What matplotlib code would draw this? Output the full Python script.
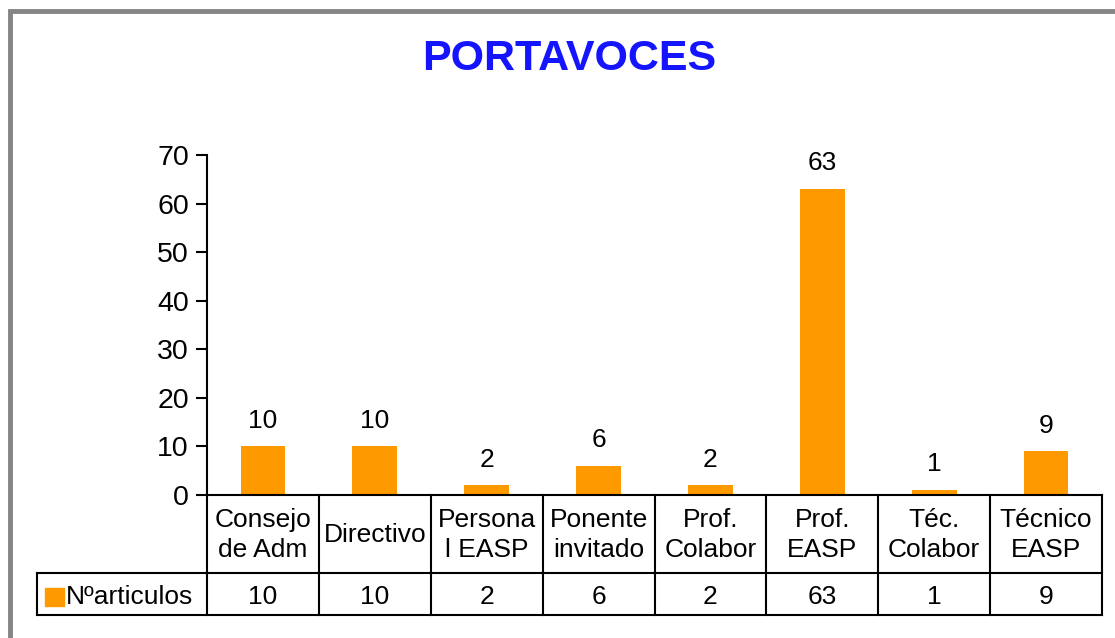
import matplotlib.pyplot as plt
from matplotlib.patches import Rectangle

categories = [
    "Consejo\nde Adm",
    "Directivo",
    "Persona\nl EASP",
    "Ponente\ninvitado",
    "Prof.\nColabor",
    "Prof.\nEASP",
    "Téc.\nColabor",
    "Técnico\nEASP",
]
articulos = [10, 10, 2, 6, 2, 63, 1, 9]
series_name = "Nºarticulos"
y_ticks = [0, 10, 20, 30, 40, 50, 60, 70]

BAR_COLOR = "#FF9900"
W, H = 1115, 638
FS = 19

plt.rcParams["font.family"] = ["Liberation Sans", "DejaVu Sans"]

fig = plt.figure(figsize=(W / 100, H / 100), dpi=100)
fig.patch.set_facecolor("white")

# grey frame, cut off on the right and bottom
fig.add_artist(Rectangle((9.5 / W, -0.1), 1.2, 1 - 11 / H + 0.1,
                         transform=fig.transFigure, fill=False,
                         edgecolor="#858585", linewidth=3.5))

left, right, top, bottom = 207, 1102, 155, 495
ax = fig.add_axes([left / W, 1 - bottom / H, (right - left) / W, (bottom - top) / H])

n = len(categories)
xs = list(range(n))
ax.bar(xs, articulos, width=0.4, color=BAR_COLOR, zorder=2)
ax.set_xlim(-0.5, n - 0.5)
ax.set_ylim(0, 70)
ax.set_yticks(y_ticks)
ax.tick_params(axis="y", direction="out", length=8, width=1.5, labelsize=20.5, pad=5)
ax.set_xticks([])
for side in ("top", "right"):
    ax.spines[side].set_visible(False)
ax.spines["left"].set_linewidth(1.5)
ax.spines["bottom"].set_linewidth(1.5)

for x, v in zip(xs, articulos):
    ax.annotate(str(v), (x, v), xytext=(0, 13.5), textcoords="offset points",
                ha="center", va="baseline", fontsize=FS)

fig.text(569 / W, 1 - 59 / H, "PORTAVOCES", color="#1414FF", fontsize=31,
         fontweight="bold", ha="center", va="center")

# data table under the axis
trans = ax.get_xaxis_transform()
h_ax = bottom - top
row1 = -(573 - bottom) / h_ax
row2 = -(615 - bottom) / h_ax
px_per_unit = (right - left) / n
x_leg = -0.5 - (left - 37) / px_per_unit
lk = dict(color="black", linewidth=1.5, clip_on=False, transform=trans,
          solid_capstyle="projecting")
for i in range(n + 1):
    ax.plot([i - 0.5, i - 0.5], [0, row2], **lk)
ax.plot([x_leg, n - 0.5], [row1, row1], **lk)
ax.plot([x_leg, n - 0.5], [row2, row2], **lk)
ax.plot([x_leg, x_leg], [row1, row2], **lk)

row_mid = (row1 + row2) / 2 - 3 / h_ax
for x, label, v in zip(xs, categories, articulos):
    ax.text(x, row1 / 2 - 1 / h_ax, label, transform=trans, ha="center",
            va="center", fontsize=FS, linespacing=1.32)
    ax.text(x, row_mid, str(v), transform=trans, ha="center",
            va="center", fontsize=FS)

# legend key inside the row header cell
key_w = 19 / px_per_unit
key_x = -0.5 - (left - 45) / px_per_unit
key_h = 18 / h_ax
ax.add_patch(Rectangle((key_x, row_mid - key_h / 2), key_w, key_h,
                       transform=trans, color=BAR_COLOR, clip_on=False))
ax.text(key_x + key_w + 2 / px_per_unit, row_mid, series_name, transform=trans,
        ha="left", va="center", fontsize=FS)

fig.savefig("out.png", dpi=100)
